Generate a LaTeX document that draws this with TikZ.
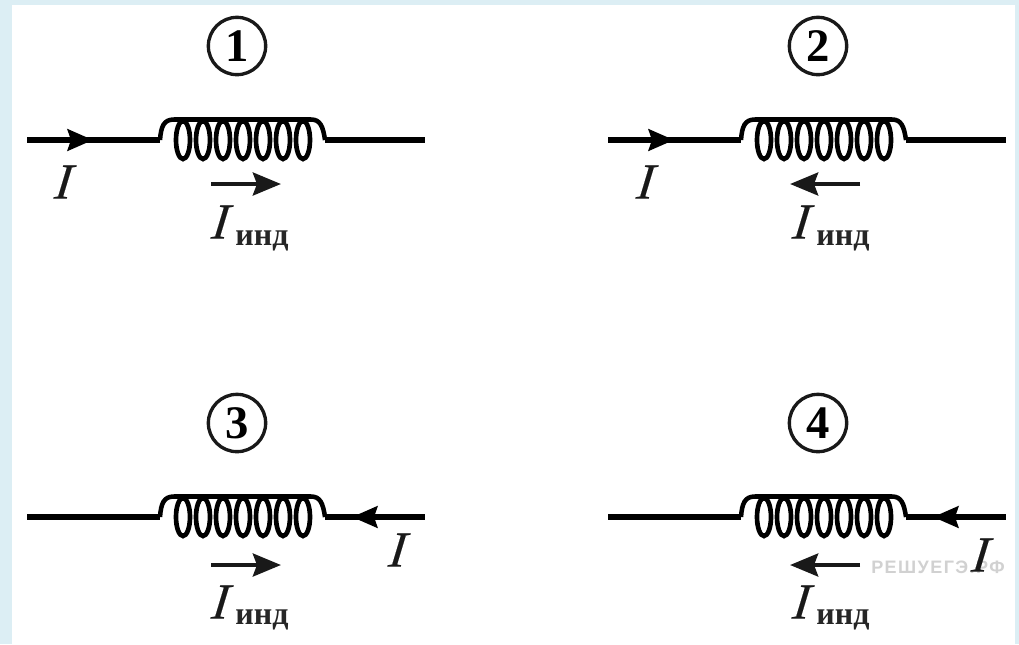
\documentclass[tikz,border=0pt]{standalone}
\usepackage{fontspec}
\setmainfont{Liberation Serif}
\newfontfamily\marksans[LetterSpace=8]{Liberation Sans}
\newfontfamily\curfont[FakeBold=0.3,FakeSlant=0.3]{Liberation Serif}
\usetikzlibrary{arrows.meta}
\definecolor{pageblue}{HTML}{DCEEF4}
\tikzset{
  x=0.75pt,y=-0.75pt,
  wire/.style={line width=3.9pt,black},
  coilline/.style={line width=3.5pt,black},
  tipline/.style={line width=3.9pt,black,-{Stealth[length=19pt,width=16pt,inset=2.5pt]}},
  indline/.style={line width=3.6pt,black!90,-{Stealth[length=21pt,width=17pt,inset=3pt]}},
  numcircle/.style={circle,draw=black!90,line width=2.5pt,minimum size=43pt,inner sep=0pt,font=\bfseries\fontsize{35}{35}\selectfont},
  cur/.style={inner sep=0pt,font=\curfont\fontsize{38}{38}\selectfont,text=black!90},
  sub/.style={inner sep=0pt,font=\fontsize{24}{24}\selectfont\bfseries,text=black!85},
}
\newcommand{\coilpanel}[8]{%
  \begin{scope}[shift={(#2,#3)}]
    \node[numcircle] (#1num) at (237,46) {#4};
    \coordinate (#1a) at (27,140);
    \coordinate (#1b) at (425,140);
    \coordinate (#1c) at (160,140);
    \coordinate (#1d) at (325,140);
    \draw[wire] (#1a) -- (#1c);
    \draw[wire] (#1d) -- (#1b);
    \foreach \k in {0,...,6}{
      \draw[coilline] ({183+20*\k},140) ellipse [x radius=7,y radius=19];
    }
    \draw[wire,line width=3.4pt] (#1c) .. controls (161,126) and (164,119.5) .. (174,119.5) -- (311,119.5) .. controls (320,119.5) and (323,126) .. (#1d);
    \coordinate (#1s) at (#5,140);
    \coordinate (#1t) at (#6,140);
    \draw[tipline] (#1s) -- (#1t);
    \node[cur] (#1i) at #7 {I};
    #8
  \end{scope}}
\newcommand{\indright}[2]{%
  \coordinate (#1p) at (211,#2); \coordinate (#1q) at (281,#2);
  \draw[indline] (#1p) -- (#1q);}
\newcommand{\indleft}[2]{%
  \coordinate (#1p) at (279,#2); \coordinate (#1q) at (209,#2);
  \draw[indline] (#1p) -- (#1q);}
\newcommand{\indtext}[3]{%
  \node[cur] (#1l) at (217,#2) {I};
  \node[sub] (#1m) at (262,#3) {инд};}
\begin{document}
\begin{tikzpicture}
  \useasboundingbox (0,0) rectangle (1019,644);
  \fill[pageblue] (0,0) rectangle (1019,644);
  \fill[white] (12,5) rectangle (1015,644);
  \node[text=black!18,inner sep=0pt,font=\marksans\fontsize{13.5}{14}\bfseries\selectfont] (wm) at (938,567) {РЕШУЕГЭ.РФ};
  \coilpanel{A}{0}{0}{1}{60}{93}{(60,182)}{\indright{A}{184}\indtext{A}{222}{241}}
  \coilpanel{B}{581}{0}{2}{60}{93}{(61,182)}{\indleft{B}{184}\indtext{B}{222}{241}}
  \coilpanel{C}{0}{377}{3}{400}{352}{(394,173)}{\indright{C}{188}\indtext{C}{225}{243}}
  \coilpanel{D}{581}{377}{4}{400}{352}{(396,178)}{\indleft{D}{188}\indtext{D}{225}{243}}
\end{tikzpicture}
\end{document}
